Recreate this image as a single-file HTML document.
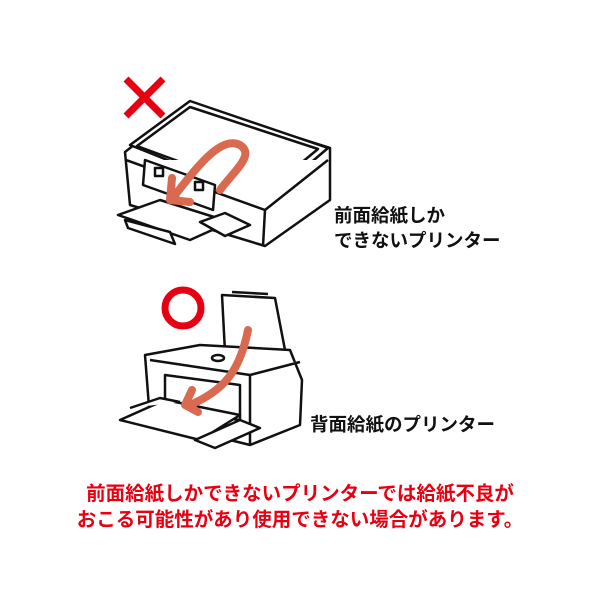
<!DOCTYPE html>
<html><head><meta charset="utf-8"><style>
body{margin:0;background:#fff;width:600px;height:600px;overflow:hidden}
svg{position:absolute;left:0;top:0}
.t{font-family:"Liberation Sans","Noto Sans CJK JP",sans-serif;font-weight:bold}
</style></head><body>
<svg width="600" height="600" viewBox="0 0 600 600">
<g stroke="#e60012" stroke-width="7" fill="none">
<line x1="126" y1="79" x2="163" y2="116"/><line x1="163" y1="79" x2="126" y2="116"/>
<circle cx="183" cy="308" r="18"/>
</g>
<g fill="#fff" stroke="#111" stroke-width="2.5" stroke-linejoin="round">
<!-- top printer -->
<path d="M125 152 L188 103 L330 148 L330 200 L265 246 L130 205 Z"/>
<path d="M130 145 L190 101 L328 148 L267 200 Z"/>
<path d="M137 146 L190 107 L318 149 L265 193 Z"/>
<path d="M126 160 L265 210 L328 160"/>
<path d="M265 210 L263 246"/>
<path d="M145 160 L215 185 L213 210 L143 185 Z"/>
<rect x="155" y="168" width="8" height="8"/><rect x="195" y="182" width="8" height="8"/>
<path d="M118 215 L160 200 L230 222 L190 240 Z"/>
<path d="M125 220 L170 232 L175 244 L128 228 Z"/>
<path d="M200 222 L225 213 L250 225 L225 236 Z"/>
<!-- bottom printer -->
<path d="M222 295 L275 298 L285 350 L225 352 Z"/>
<path d="M232 292 L268 294"/>
<path d="M145 355 L200 345 L290 350 L302 380 L300 425 L250 445 L150 420 Z"/>
<path d="M150 360 L250 375 L300 362"/>
<path d="M250 375 L250 445"/>
<path d="M165 375 L240 385 L240 420 L165 410 Z"/>
<ellipse cx="218" cy="358" rx="6" ry="3"/>
<path d="M120 420 L165 400 L240 415 L200 440 Z"/>
<path d="M195 440 L240 420 L260 428 L215 448 Z"/>
<path d="M130 408 L160 398 L180 402"/>
</g>
<g fill="none" stroke="#d9694f" stroke-width="8" stroke-linecap="round" stroke-linejoin="round">
<path d="M220 190 C235 170 255 155 240 145 C220 135 195 170 175 195"/>
<path d="M172 178 L170 200 L190 202"/>
<path d="M248 330 C240 370 225 390 190 405"/>
<path d="M192 390 L185 405 L198 412"/>
</g>
<g class="t" font-size="18.5" fill="#111">
<text x="334" y="222">前面給紙しか</text>
<text x="334" y="247">できないプリンター</text>
<text x="310" y="431">背面給紙のプリンター</text>
</g>
<g class="t" font-size="19.5" fill="#e60012" text-anchor="middle">
<text x="300" y="500">前面給紙しかできないプリンターでは給紙不良が</text>
<text x="300" y="526">おこる可能性があり使用できない場合があります。</text>
</g>
</svg>
</body></html>
